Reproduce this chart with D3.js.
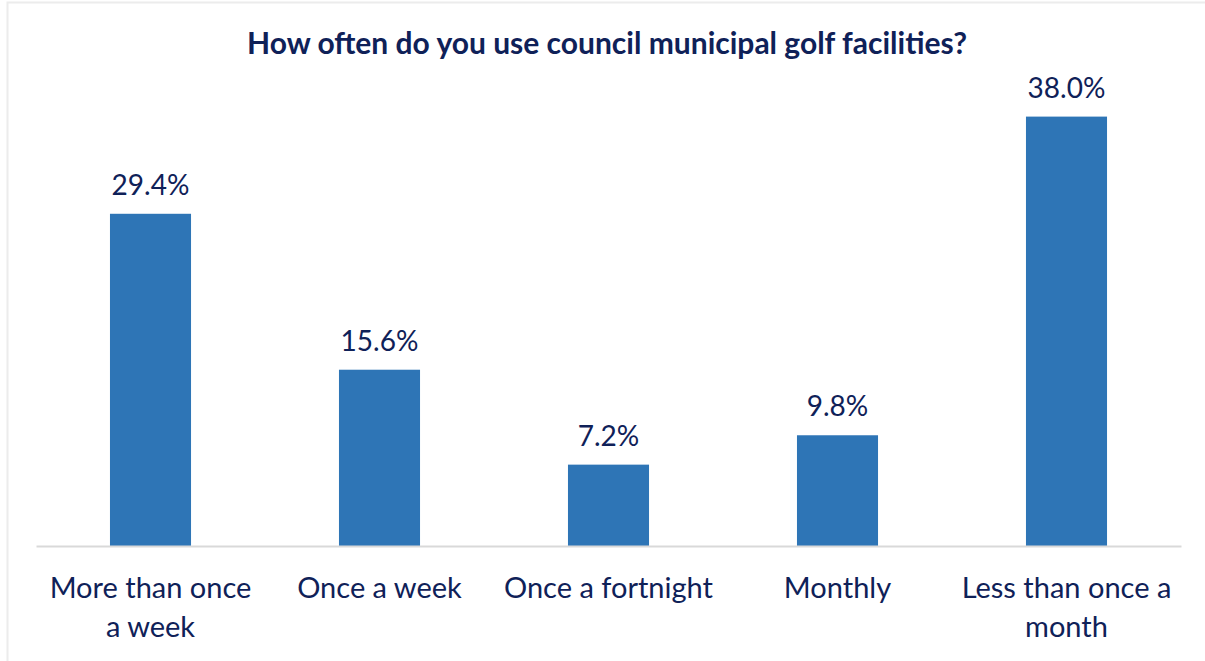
<!DOCTYPE html>
<html>
<head>
<meta charset="utf-8">
<script src="https://cdn.jsdelivr.net/npm/d3@7"></script>
<style>
  html, body { margin: 0; padding: 0; background: #fff; }
  svg { display: block; }
  text { font-family: Lato, "Open Sans", sans-serif; }
</style>
</head>
<body>
<svg id="chart" width="1205" height="661"></svg>
<script>
// Survey responses: frequency of use of council golf facilities
const categories = ["More than once a week", "Once a week", "Once a fortnight", "Monthly", "Less than once a month"];
const categoryLines = [["More than once", "a week"], ["Once a week"], ["Once a fortnight"], ["Monthly"], ["Less than once a", "month"]];
const shares = [29.4, 15.6, 7.2, 9.8, 38.0];
const titleText = "How often do you use council municipal golf facilities?";

const W = 1205, H = 661;
const margin = { left: 36, right: 24, top: 94, bottom: 115 };
const navy = "#0f2158";
const barColor = "#2e75b6";

const svg = d3.select("#chart");

// chart frame
svg.append("rect")
  .attr("x", 7.5).attr("y", 2.5)
  .attr("width", W + 10).attr("height", H + 10)
  .attr("fill", "#fff").attr("stroke", "#ececec").attr("stroke-width", 2);

const x = d3.scaleBand()
  .domain(categories)
  .range([margin.left, W - margin.right])
  .paddingInner(0.646)
  .paddingOuter(0.323);

const y = d3.scaleLinear()
  .domain([0, 40])
  .range([H - margin.bottom, margin.top]);

const data = categories.map((c, i) => ({ cat: c, val: shares[i], lines: categoryLines[i] }));

// bars
svg.append("g").selectAll("rect")
  .data(data)
  .join("rect")
  .attr("x", d => x(d.cat))
  .attr("y", d => y(d.val))
  .attr("width", x.bandwidth())
  .attr("height", d => y(0) - y(d.val))
  .attr("fill", barColor);

// value labels
svg.append("g").selectAll("text")
  .data(data)
  .join("text")
  .attr("x", d => x(d.cat) + x.bandwidth() / 2)
  .attr("y", d => y(d.val) - 19)
  .attr("text-anchor", "middle")
  .attr("font-size", 28)
  .attr("fill", navy)
  .text(d => d.val.toFixed(1) + "%");

// category axis
const xAxis = svg.append("g")
  .attr("transform", `translate(0,${y(0)})`)
  .call(d3.axisBottom(x).tickSize(0).tickPadding(0));
xAxis.select(".domain").attr("stroke", "#d9d9d9").attr("stroke-width", 2);
xAxis.selectAll(".tick text").remove();

// category labels, one tspan per line
svg.append("g").selectAll("text")
  .data(data)
  .join("text")
  .attr("text-anchor", "middle")
  .attr("font-size", 29)
  .attr("fill", navy)
  .attr("y", y(0) + 52)
  .each(function (d) {
    const cx = x(d.cat) + x.bandwidth() / 2;
    d3.select(this).selectAll("tspan")
      .data(d.lines)
      .join("tspan")
      .attr("x", cx)
      .attr("dy", (l, i) => i === 0 ? 0 : 39)
      .text(l => l);
  });

// title
svg.append("text")
  .attr("x", 607)
  .attr("y", 54)
  .attr("text-anchor", "middle")
  .attr("font-size", 30)
  .attr("font-weight", "bold")
  .attr("fill", navy)
  .text(titleText);
</script>
</body>
</html>
